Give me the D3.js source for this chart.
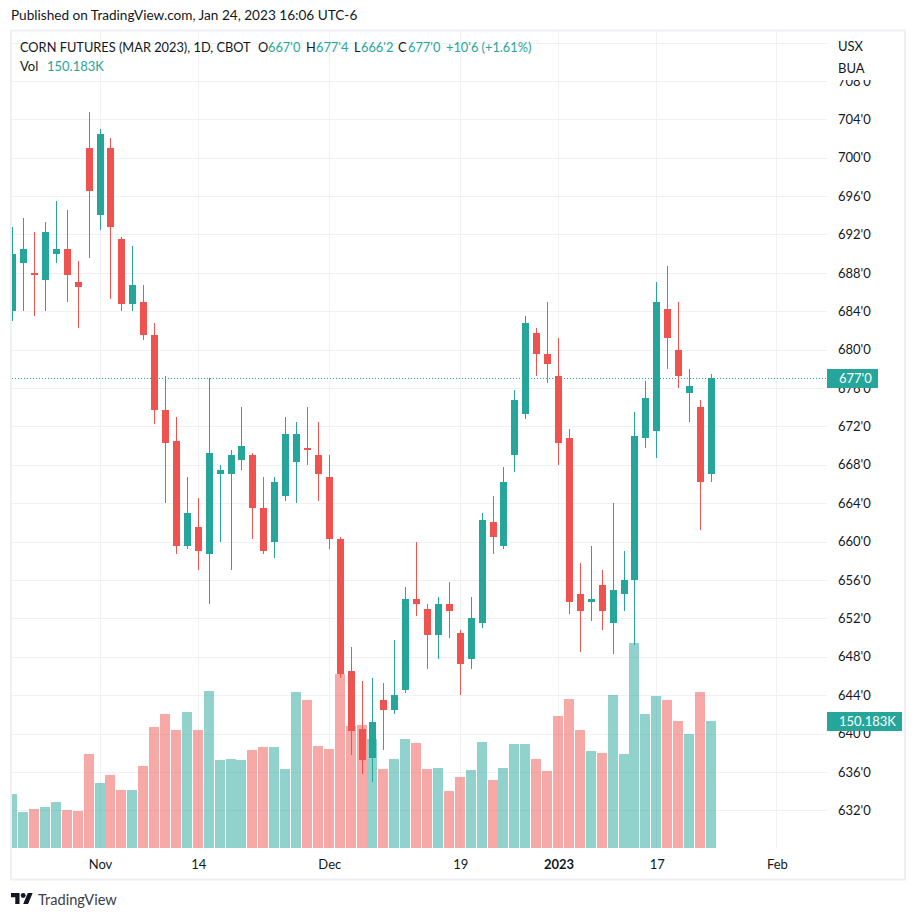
<!DOCTYPE html>
<html>
<head>
<meta charset="utf-8">
<style>
  body { margin: 0; background: #fff; }
  text { font-family: "Lato", "Open Sans", sans-serif; }
</style>
<script src="https://cdnjs.cloudflare.com/ajax/libs/d3/7.8.5/d3.min.js"></script>
</head>
<body>
<div id="chart"></div>
<script>
// daily candles, oct 20 2022 -> jan 24 2023
var opens = [684,689,688,687.25,690,690.5,687,701,694,701,691.5,684.75,685,681.5,673.75,670.5,659.5,661.5,658.75,667,667,668.5,669,663.5,660,664.75,668.25,669.75,669,666.75,660.25,646.5,640.5,637.5,643.5,642.5,644.5,654,653,650.25,653.5,650.5,647.75,651.5,662,659.5,669,673.25,681.75,679.5,677.25,670.75,654.5,653.75,655.5,651.5,654.5,656,670.75,671.5,684.25,680,675.5,674,667];
var highs = [692.75,693.75,692.25,693.25,695.5,694.5,689.25,704.75,703,702,691.75,690.75,686.75,682.75,677.25,673,666.75,664.5,677,668,669.5,674,669.25,666.75,666.75,673,672.5,674,672.5,669,660.5,649,645.5,645.75,645.25,649.75,655.25,660,653.5,654.25,655.75,650.75,654.25,663,664.75,667.75,675.75,683.5,682.25,685,681.25,671.75,657.75,659.5,657,664,659,673.5,676.75,687,688.75,685,678,674.75,677.5];
var lows = [683,684,683.5,684,689,685,682.25,689.5,692.5,685.25,684,684,681,672.25,664,658.75,659.25,657,653.5,660,657,667.5,660.25,658.75,658.25,664.25,664,668,664.25,659.25,645.75,637.75,635.75,635,638.25,642,644.25,652.25,646.75,647.75,650,644,646.75,651,658.75,659.25,667.25,672.75,677.25,676.5,668,652.5,648.5,651.75,650.75,648.25,652.75,649.25,669.75,668.75,678,676,672.5,661.25,666.25];
var closes = [690,690.5,687.75,692.25,690.5,687.75,686.5,696.5,702.5,692.75,684.75,686.75,681.5,673.75,670.25,659.5,663,659,669.25,667.5,669,670,663.5,659,666.25,671.25,671.25,669.5,667,660.25,646.25,640.25,637.25,641.25,642.5,644,654,653.5,650.25,653.5,652.75,647.25,652,662.25,660.5,666.25,674.75,682.75,679.5,678.5,670.25,653.75,652.75,654,652.75,655,656,671,675,685,681.25,677.25,676.25,666.25,677];
var volumes = [63.9,42.6,46.1,48.5,54.4,44.9,43.8,111.2,76.9,86.3,68.6,68.6,97,143.1,158.5,139.5,160.8,139.5,185.7,104.1,105.2,104.1,115.9,119.4,119.4,93.4,184.5,175,120.6,117.1,205.8,144.3,145.4,128.9,93.4,105.2,128.9,124.2,93.4,94.6,67.4,84,92.2,125.3,80.4,94.6,123,123,105.2,91.1,156.1,176.2,139.5,114.7,112.3,180.9,111.2,242.4,158.5,179.7,175,150.2,134.8,184.5,150.183];

var priceTicks = [632,636,640,644,648,652,656,660,664,668,672,676,680,684,688,692,696,700,704,708,712];
var timeTicks = [8,17,29,41,50,59,70];
var timeLabels = ["Nov","14","Dec","19","2023","17","Feb"];

var lastPrice = 677;
var lastVolume = 150.183;

var upColor = "#26a69a", downColor = "#ef5350", gridColor = "#f1f1f3", frameColor = "#eff0f5", textColor = "#131722";

// frame of the chart
var left = 12, right = 827, top_ = 31, bottom = 848;

var svg = d3.select("#chart").append("svg")
    .attr("width", 916)
    .attr("height", 919)
    .style("display", "block");

var x = d3.scaleLinear().domain([0, 64]).range([12.68, 711.37]);
var y = d3.scaleLinear().domain([632, 704]).range([810.3, 119.3]);
var yVol = d3.scaleLinear().domain([0, lastVolume]).range([848, 721]);

function isUp(i) { return closes[i] >= opens[i]; }
function px(i) { return Math.floor(x(i)); }

svg.append("defs").append("clipPath").attr("id", "plot")
  .append("rect").attr("x", left).attr("y", top_).attr("width", right - left).attr("height", bottom - top_);

var plot = svg.append("g").attr("clip-path", "url(#plot)");

// grid
plot.selectAll(".hgrid").data(priceTicks).enter().append("line")
    .attr("x1", left).attr("x2", right)
    .attr("y1", function(d) { return Math.round(y(d)) + 0.5; })
    .attr("y2", function(d) { return Math.round(y(d)) + 0.5; })
    .attr("stroke", gridColor);

plot.selectAll(".vgrid").data(timeTicks).enter().append("line")
    .attr("x1", function(d) { return px(d) + 0.5; })
    .attr("x2", function(d) { return px(d) + 0.5; })
    .attr("y1", top_).attr("y2", bottom)
    .attr("stroke", gridColor);

// volume goes under the candles
plot.selectAll(".vol").data(volumes).enter().append("rect")
    .attr("x", function(d, i) { return px(i) - 5; })
    .attr("width", 10)
    .attr("y", function(d) { return Math.round(yVol(d)); })
    .attr("height", function(d) { return 848 - Math.round(yVol(d)); })
    .attr("fill", function(d, i) { return isUp(i) ? upColor : downColor; })
    .attr("fill-opacity", 0.5);

// last price line
plot.append("line")
    .attr("x1", left).attr("x2", right)
    .attr("y1", Math.round(y(lastPrice)) + 0.5)
    .attr("y2", Math.round(y(lastPrice)) + 0.5)
    .attr("stroke", upColor)
    .attr("stroke-dasharray", "1,2");

// wicks
plot.selectAll(".wick").data(opens).enter().append("rect")
    .attr("x", function(d, i) { return px(i); })
    .attr("width", 1)
    .attr("y", function(d, i) { return Math.round(y(highs[i])); })
    .attr("height", function(d, i) { return Math.round(y(lows[i])) - Math.round(y(highs[i])); })
    .attr("fill", function(d, i) { return isUp(i) ? upColor : downColor; });

// bodies
plot.selectAll(".body").data(opens).enter().append("rect")
    .attr("x", function(d, i) { return px(i) - 3; })
    .attr("width", 7)
    .attr("y", function(d, i) { return Math.round(y(Math.max(d, closes[i]))); })
    .attr("height", function(d, i) { return Math.max(1, Math.round(y(Math.min(d, closes[i]))) - Math.round(y(Math.max(d, closes[i])))); })
    .attr("fill", function(d, i) { return isUp(i) ? upColor : downColor; });

// price axis, labels only
var yAxis = d3.axisRight(y)
    .tickValues(priceTicks.filter(function(d) { return d <= 708; }))
    .tickSize(0)
    .tickPadding(0)
    .tickFormat(function(d) { return d + "'0"; });

svg.append("g")
    .attr("class", "y axis")
    .attr("transform", "translate(838,0)")
    .call(yAxis)
    .call(function(g) { g.select(".domain").remove(); })
    .selectAll("text")
    .style("font-family", "Lato")
    .style("font-size", "13px")
    .attr("fill", textColor);

// time axis
var xAxis = d3.axisBottom(x)
    .tickValues(timeTicks)
    .tickSize(0)
    .tickPadding(0)
    .tickFormat(function(d, i) { return timeLabels[i]; });

svg.append("g")
    .attr("class", "x axis")
    .attr("transform", "translate(0,859.5)")
    .call(xAxis)
    .call(function(g) { g.select(".domain").remove(); })
    .selectAll("text")
    .style("font-family", "Lato")
    .style("font-size", "13px")
    .style("font-weight", function(d, i) { return timeLabels[i] == "2023" ? "bold" : "normal"; })
    .attr("fill", textColor);

// white patch behind the currency and unit, cuts the top tick label
svg.append("rect").attr("x", 828).attr("y", 31).attr("width", 76).attr("height", 49).attr("fill", "#fff");
svg.append("text").attr("x", 838).attr("y", 51).style("font-size", "13px").attr("fill", textColor).text("USX");
svg.append("text").attr("x", 838).attr("y", 73).style("font-size", "13px").attr("fill", textColor).text("BUA");

// frame
svg.append("rect")
    .attr("x", 11).attr("y", 30.5)
    .attr("width", 894).attr("height", 849)
    .attr("fill", "none")
    .attr("stroke", frameColor)
    .attr("stroke-width", 2);

// last value tags
svg.append("rect").attr("x", 827).attr("y", 369).attr("width", 51).attr("height", 19).attr("fill", upColor);
svg.append("text").attr("x", 839).attr("y", y(lastPrice) + 5).style("font-size", "13px").attr("fill", "#fff").text(lastPrice + "'0");

svg.append("rect").attr("x", 827).attr("y", 712).attr("width", 75).attr("height", 19).attr("fill", upColor);
svg.append("text").attr("x", 839).attr("y", 726).style("font-size", "13px").attr("fill", "#fff").text(lastVolume + "K");

// header
svg.append("text").attr("x", 11).attr("y", 20).style("font-size", "13.6px").attr("fill", textColor)
    .text("Published on TradingView.com, Jan 24, 2023 16:06 UTC-6");

// ohlc legend, each piece placed where the reference has it
var legendParts = ["CORN FUTURES (MAR 2023), 1D, CBOT", "O", "667'0", "H", "677'4", "L", "666'2", "C", "677'0", "+10'6 (+1.61%)"];
var legendX = [20, 258, 268, 306, 316, 354, 361, 398, 408, 446];

svg.selectAll(".legend").data(legendParts).enter().append("text")
    .attr("class", "legend")
    .attr("x", function(d, i) { return legendX[i]; })
    .attr("y", 52)
    .style("font-size", "12.8px")
    .attr("fill", function(d, i) { return (i == 0 || i == 1 || i == 3 || i == 5 || i == 7) ? textColor : upColor; })
    .text(function(d) { return d; });

svg.append("text").attr("x", 20).attr("y", 71).style("font-size", "13px").attr("fill", textColor).text("Vol");
svg.append("text").attr("x", 47).attr("y", 71).style("font-size", "13px").attr("fill", upColor).text(lastVolume + "K");

// logo + name at the bottom
svg.append("g").attr("transform", "translate(11,893) scale(0.61)").attr("fill", "#131722")
  .call(function(g) {
    g.append("path").attr("d", "M14 22H7V11H0V4h14v18zM28 22h-8l7.5-18h8L28 22z").attr("transform", "translate(0,-4)");
    g.append("circle").attr("cx", 20).attr("cy", 4).attr("r", 4);
  });
svg.append("text").attr("x", 38).attr("y", 905).style("font-size", "14.6px").attr("fill", "#3a3e4a").text("TradingView");
</script>
</body>
</html>
